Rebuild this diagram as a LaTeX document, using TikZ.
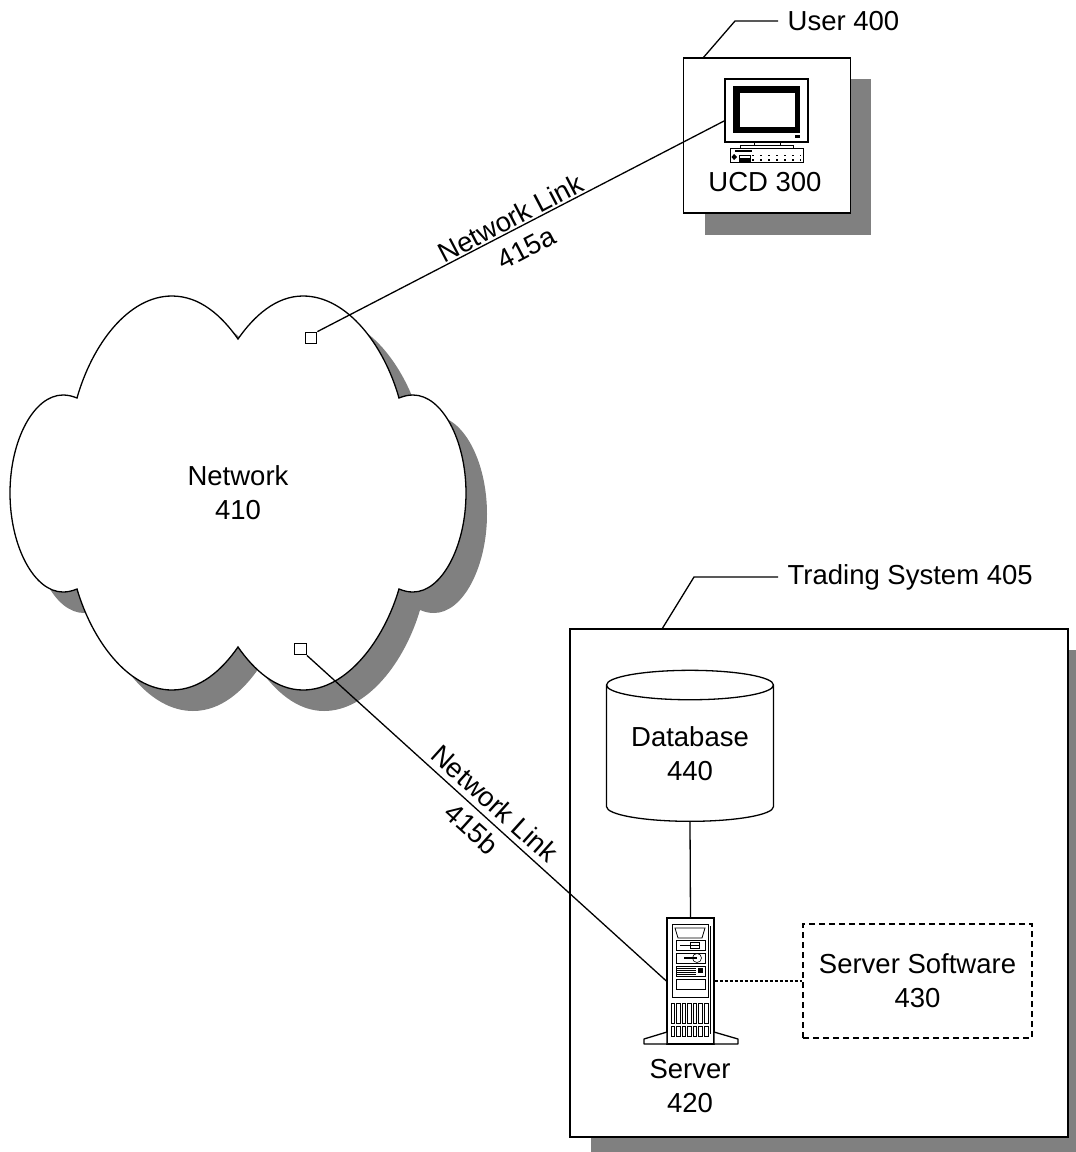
\documentclass[tikz,border=0pt]{standalone}
\usepackage{fontspec}
\setmainfont{Liberation Sans}
\usetikzlibrary{shapes.geometric}
\definecolor{shadowgray}{gray}{0.5}
\newcommand\CloudPath{(77,398) .. controls (92,345) and (128,296) .. (172,296)
    .. controls (200,296) and (222,316) .. (238,339)
    .. controls (254,316) and (276,296) .. (303,296)
    .. controls (347,296) and (384,345) .. (399,398)
    .. controls (404,396) and (408,395) .. (413,395)
    .. controls (442,395) and (466,440) .. (466,493)
    .. controls (466,546) and (442,592) .. (413,592)
    .. controls (408,592) and (404,591) .. (399,589)
    .. controls (384,640) and (347,690) .. (303,690)
    .. controls (276,690) and (254,670) .. (238,647)
    .. controls (222,670) and (200,690) .. (172,690)
    .. controls (128,690) and (92,640) .. (77,589)
    .. controls (72,591) and (68,592) .. (63,592)
    .. controls (34,592) and (10,546) .. (10,493)
    .. controls (10,440) and (34,395) .. (63,395)
    .. controls (68,395) and (72,396) .. (77,398) -- cycle}
\tikzset{
    diagram/.style={font=\fontsize{27.5}{34}\selectfont,line width=1.3pt,align=center},
    dropfill/.style={fill=shadowgray,draw=none},
    framebox/.style={draw,fill=white,inner sep=0pt},
    portbox/.style={draw,fill=white,inner sep=0pt,minimum size=11.5pt},
    tag/.style={anchor=west,inner sep=9pt},
    part/.style={line width=0.8pt},
    vent/.style={line width=0.6pt},
}
\begin{document}
\begin{tikzpicture}[x=1pt,y=-1pt,diagram]
        \clip (0,0) rectangle (1076,1152);
        \fill[dropfill] (705,79) rectangle (871,235);
        \fill[dropfill] (591,650) rectangle (1089,1158);
        \fill[dropfill,shift={(21,21)}] \CloudPath;
        \draw[fill=white] \CloudPath;
        \node (network) at (238,493) {Network\\410};
        \node[framebox,minimum width=167pt,minimum height=155pt] (userbox) at (767,135.5) {};
        \node[framebox,minimum width=498pt,minimum height=508pt] (tradingbox) at (819,883) {};
        \node[tag] (userlabel) at (778,21) {User 400};
        \node[tag] (tradinglabel) at (778,577) {Trading System 405};
        \coordinate (userfoot) at (703,58);
        \coordinate (tradingfoot) at (662,629);
        \draw (userfoot) -- (735,21) -- (userlabel.west);
        \draw (tradingfoot) -- (694,577) -- (tradinglabel.west);
        \node[portbox] (porta) at (311,338) {};
        \node[portbox] (portb) at (300.5,649) {};
        \node[draw,fill=white,inner sep=0pt,minimum width=83pt,minimum height=63pt] (monitor) at (766.5,110.5) {};
        \coordinate (monitorjack) at (725,120.5);
        \fill (733,86) rectangle (800,133);
        \fill[white] (739,92) rectangle (795,127);
        \draw[part] (739,92) rectangle (795,127);
        \fill (795,135) rectangle (800,138);
        \draw[part] (754,142) rectangle (780,145);
        \draw[part] (740,145) rectangle (793,148);
        \draw[part] (730,148) rectangle (803,162);
        \draw[line width=2pt] (735,151) -- (752,151);
        \fill (734,154) -- (737,157) -- (734,160) -- (731.5,157) -- cycle;
        \draw[vent] (739,155) rectangle (750,161);
        \fill (739,158) rectangle (750,161);
        \draw[line width=1.5pt,dash pattern=on 1.5pt off 6.5pt] (752,155.5) -- (801,155.5);
        \draw[line width=1.5pt,dash pattern=on 1.5pt off 6.5pt] (752,160) -- (801,160);
        \node (ucd) at (765,182) {UCD 300};
        \node[cylinder,draw,fill=white,shape border rotate=90,shape aspect=0.25,minimum width=167pt,minimum height=151pt,inner sep=0pt] (database) at (690,753.5) {Database\\440};
        \node[framebox,minimum width=47pt,minimum height=126pt] (server) at (690.5,981) {};
        \draw[fill=white,line join=round] (667,1032) -- (644,1039) -- (644,1044) -- (667,1044) -- cycle;
        \draw[fill=white,line join=round] (714,1032) -- (738,1039) -- (738,1044) -- (714,1044) -- cycle;
        \draw[line width=1pt] (672,924) rectangle (708,997);
        \draw[line width=1pt] (710,926) -- (710,1034);
        \draw[part] (675,928) -- (705,928) -- (702,938) -- (678,938) -- cycle;
        \draw[part] (676,940) rectangle (705,950);
        \draw[line width=1pt] (680,945) -- (699,945);
        \draw[vent] (690,942) rectangle (699,948);
        \draw[part] (676,953) rectangle (705,963);
        \draw[line width=1.8pt] (684,958) -- (697,958);
        \draw[vent] (697,958) circle (4.5);
        \draw[part] (676,966) rectangle (705,976);
        \draw[vent] (677,968) -- (696,968);
        \draw[vent] (677,970) -- (696,970);
        \draw[vent] (677,972) -- (696,972);
        \draw[vent] (677,974) -- (696,974);
        \fill (698,968) rectangle (703,973);
        \draw[part] (676,979) rectangle (705,989);
        \draw[vent] (671,1003) rectangle (674.5,1023);
        \draw[vent] (676.5,1003) rectangle (680,1023);
        \draw[vent] (682,1003) rectangle (685.5,1023);
        \draw[vent] (687.5,1003) rectangle (691,1023);
        \draw[vent] (693,1003) rectangle (696.5,1023);
        \draw[vent] (698.5,1003) rectangle (702,1023);
        \draw[vent] (704,1003) rectangle (708,1023);
        \draw[vent] (671,1026) rectangle (674.5,1036);
        \draw[vent] (676.5,1026) rectangle (680,1036);
        \draw[vent] (682,1026) rectangle (685.5,1036);
        \draw[vent] (687.5,1026) rectangle (691,1036);
        \draw[vent] (693,1026) rectangle (696.5,1036);
        \draw[vent] (698.5,1026) rectangle (702,1036);
        \draw[vent] (704,1026) rectangle (708,1036);
        \node (serverlabel) at (690,1086) {Server\\420};
        \node[draw,dashed,dash pattern=on 6pt off 4pt,inner sep=0pt,minimum width=229pt,minimum height=114pt] (software) at (917.5,981) {Server Software\\430};
        \draw (porta.north east) -- (monitorjack);
        \draw (portb.south east) -- (server.west);
        \node[rotate=27.6] (linka) at (518.5,233) {Network Link\\415a};
        \node[rotate=-42] (linkb) at (483.5,816) {Network Link\\415b};
        \draw (database.south) -- (server.north);
        \draw[dash pattern=on 3pt off 2pt] (server.east) -- (software.west);
\end{tikzpicture}
\end{document}
